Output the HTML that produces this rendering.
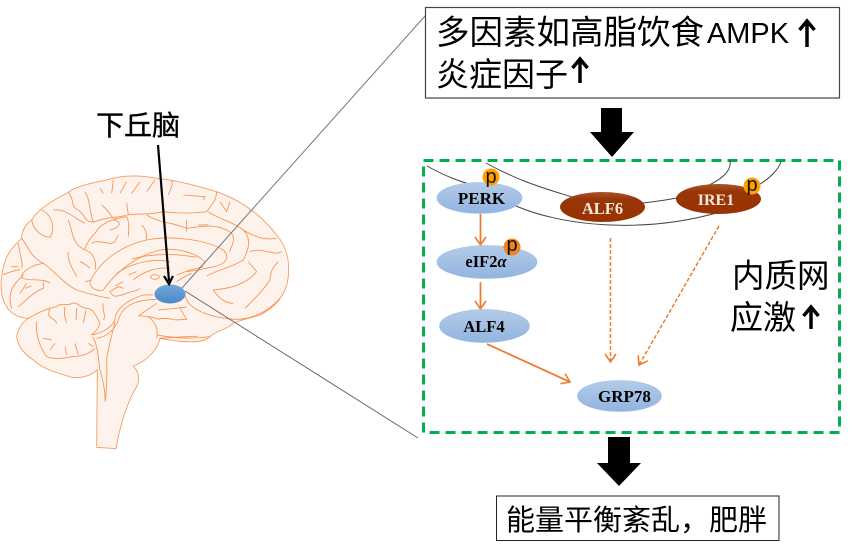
<!DOCTYPE html>
<html>
<head>
<meta charset="utf-8">
<style>
html,body{margin:0;padding:0;background:#fff}
body{width:853px;height:554px;overflow:hidden;position:relative}
svg{position:absolute;left:0;top:0}
.cjk{font-family:"Liberation Sans","Noto Sans CJK SC",sans-serif;fill:#000}
.lab{font-family:"Liberation Serif",serif;font-weight:bold;font-size:17px;text-anchor:middle;fill:#000}
.p{font-family:"Liberation Sans",sans-serif;font-size:20px;text-anchor:middle;fill:#111}
</style>
</head>
<body>
<svg width="853" height="554" viewBox="0 0 853 554" xmlns="http://www.w3.org/2000/svg">
<defs>
<linearGradient id="blue" x1="0" y1="0" x2="0" y2="1"><stop offset="0" stop-color="#b3cbe8"/><stop offset="1" stop-color="#92b4e0"/></linearGradient>
<linearGradient id="bl2" x1="0" y1="0" x2="0" y2="1"><stop offset="0" stop-color="#74a6d8"/><stop offset="1" stop-color="#4a8ac8"/></linearGradient>
<linearGradient id="red" x1="0" y1="0" x2="0" y2="1"><stop offset="0" stop-color="#a9542a"/><stop offset=".25" stop-color="#983608"/><stop offset="1" stop-color="#993300"/></linearGradient>
<marker id="ah" markerWidth="14" markerHeight="14" refX="10" refY="7" orient="auto" markerUnits="userSpaceOnUse"><path d="M2,1.500 L10,7 L2,12.500" fill="none" stroke="#ed7d31" stroke-width="1.600"/></marker>
</defs>

<!-- brain -->
<g transform="translate(0,160) scale(.3333)">
<path d="M290,862 L292,630 C270,650 240,655 215,652 C180,640 130,630 100,600 C70,580 55,560 50,530 C55,500 70,485 85,475 C60,475 30,460 20,440 C5,420 0,380 5,350 C10,310 20,280 50,250 L65,235 C65,210 80,190 95,180 C110,150 160,120 205,97 C230,75 300,65 340,55 C380,45 420,45 470,55 C530,60 600,80 650,95 C720,120 780,160 830,225 C860,260 870,300 865,350 C860,400 830,440 780,465 C750,475 720,480 700,490 C680,510 650,510 630,530 C610,550 560,550 480,535 C475,560 450,600 400,618 C420,640 420,660 410,680 C380,730 360,800 348,866 Z" fill="#fef3ec" stroke="#f59a5c" stroke-width="2.6"/>
<g fill="none" stroke="#f7924e" stroke-width="2.6">
<path d="M270,365 C300,300 370,255 440,240 C520,225 620,240 670,270 C690,290 680,310 650,318 C620,325 600,330 560,335"/>
<path d="M270,365 C270,385 290,395 310,390 C340,345 400,290 480,270 C530,262 600,280 615,310"/>
<path d="M395,298 C450,280 530,280 590,292 M350,340 C400,305 470,295 510,305 M400,360 C430,335 470,320 510,325"/>
<path d="M205,97 C225,120 210,140 235,150 C260,170 255,190 285,185 C320,170 350,175 380,165 C420,160 450,165 490,155 C530,160 580,160 620,155 C640,130 650,115 650,95"/>
<path d="M95,180 C100,215 130,230 150,232 C170,200 150,160 125,150 M160,150 C200,145 230,180 255,190 M205,180 C220,220 215,250 255,270 C285,280 290,310 285,330 M65,235 C85,260 90,290 130,310 C160,330 190,370 230,390 C260,400 300,410 330,415"/>
<path d="M285,220 C265,240 255,260 255,270 M285,220 C300,190 340,175 380,170 C390,190 385,210 385,230 M275,250 C300,235 330,260 345,245 L355,225 M340,180 C360,180 370,200 330,210"/>
<path d="M440,165 C480,190 510,185 560,205 C600,200 640,190 680,210 C720,230 690,260 690,275 M560,180 L560,215 M595,195 L625,195 M625,155 C650,175 700,185 730,210 C760,240 740,280 730,300 C690,325 650,330 620,348"/>
<path d="M730,210 C770,235 800,240 830,235 M750,275 C790,260 820,290 845,275 M640,390 C700,385 740,370 770,335 L745,305 M640,390 C660,420 680,430 700,430 M735,445 C770,410 790,390 810,360 C810,335 820,320 835,305"/>
<path d="M555,405 C560,440 610,470 700,478 C750,480 800,460 840,415"/>
<path d="M205,275 C200,300 220,330 230,350 M240,305 C255,310 265,320 270,325 M255,365 L275,360"/>
<path d="M130,310 C100,315 80,325 65,345 C60,370 130,350 150,370 M70,345 C40,375 20,395 35,445 M130,365 L130,385 C100,395 70,430 55,440 M60,400 L80,370 M75,385 L95,378"/>
<path d="M55,250 C60,290 70,310 65,325 M35,320 L55,320 M10,345 C25,335 40,335 60,328"/>
<path d="M85,475 C110,460 140,445 170,440 C185,425 205,440 215,430 C235,425 240,445 260,445 C280,445 290,470 300,490 C295,510 280,520 275,525 M110,485 C105,530 125,570 140,590 C165,600 190,595 215,590 C245,590 270,580 285,565 M150,445 C135,480 165,470 170,490 M195,440 C190,460 195,475 200,490 M230,445 L228,480 M258,450 L250,490 M130,535 L155,540 M150,570 L165,550 M195,560 L200,585 M225,550 L235,585 M265,550 L280,560"/>
<path d="M275,525 C300,520 330,510 345,480 C345,450 380,420 430,405 L460,405 M290,535 C320,530 345,510 355,480 C365,440 400,420 470,418"/>
<path d="M278,530 C295,560 295,600 300,630 C310,660 315,700 316,725 C320,680 322,640 320,600 C325,560 340,510 345,485"/>
<path d="M416,467 L470,430 M416,467 C440,470 460,470 475,478 C495,470 520,480 530,480 L560,478 L540,445 M475,450 L530,445 C545,440 555,445 560,440"/>
<path d="M480,535 C530,530 590,530 595,528 M470,525 C500,530 560,540 630,530 M445,470 C470,490 475,510 470,535"/>
<ellipse cx="465" cy="351" rx="13" ry="7"/>
<path d="M330,395 L355,380 L370,385 M330,395 C340,415 350,410 380,400 C400,390 415,395 420,385 M310,430 C305,450 320,470 310,480"/>
<path d="M385,345 L410,335 M345,378 L370,365 M530,345 L570,330 L610,320 M530,365 C545,355 560,345 575,340"/>
<path d="M300,85 L310,100 M340,60 L335,100 M380,65 L360,100 M420,65 L395,100 M465,60 L440,95 M515,60 C520,80 510,90 505,105 M550,105 L615,110 L610,120 M255,95 C275,130 265,150 280,185 M660,125 L680,155 L690,125 M305,135 C325,150 330,165 340,175 M380,130 L385,165 M425,195 C440,210 440,225 440,240"/>
</g>
</g>

<!-- guide lines -->
<line x1="182" y1="288" x2="425" y2="16" stroke="#777" stroke-width="1"/>
<line x1="185" y1="291" x2="418" y2="438" stroke="#666" stroke-width="1"/>

<!-- hypothalamus -->
<ellipse cx="170" cy="294" rx="15.500" ry="9.500" fill="url(#bl2)"/>
<line x1="158" y1="145" x2="169" y2="281" stroke="#000" stroke-width="2.200"/>
<path d="M164,276 L169,284 L173,276" fill="none" stroke="#000" stroke-width="2.200"/>
<text class="cjk" x="96" y="135" font-size="28" stroke="#000" stroke-width=".35">下丘脑</text>

<!-- top box -->
<rect x="425.500" y="7.500" width="414" height="90.500" fill="#fff" stroke="#444" stroke-width="1.200"/>
<text class="cjk" x="436" y="44" font-size="33.500">多因素如高脂饮食</text>
<text class="cjk" x="707" y="43" font-size="28.500" textLength="82" lengthAdjust="spacingAndGlyphs">AMPK</text>
<text class="cjk" x="436" y="86" font-size="33">炎症因子</text>
<path d="M807,47 L807,21 M799.500,30 L807,21 L814.500,30" fill="none" stroke="#000" stroke-width="3.500"/>
<path d="M580,83 L580,59 M572.500,68 L580,59 L587.500,68" fill="none" stroke="#000" stroke-width="3.500"/>

<!-- block arrows -->
<polygon points="601,108 622,108 622,132 634,132 612,157 590,132 601,132" fill="#000"/>
<polygon points="608,437 630,437 630,463 641,463 619,486 597,463 608,463" fill="#000"/>

<!-- green dashed box -->
<rect x="423.500" y="160.500" width="416" height="272" fill="none" stroke="#00b050" stroke-width="3" stroke-dasharray="10 6"/>

<!-- membrane -->
<g fill="none" stroke="#444" stroke-width="1">
<path d="M427,166 C445,176 460,182 480,187"/>
<path d="M486,163 C520,182 550,190 572,197"/>
<path d="M516,206 C560,225 640,235 720,212"/>
<path d="M643,203 C660,201 675,199 690,195"/>
<path d="M707,186 C720,180 732,172 730,160"/>
<path d="M760,184 C770,178 778,170 781,162"/>
</g>

<!-- connectors -->
<g fill="none" stroke="#ed7d31" stroke-width="1.800">
<line x1="480.500" y1="214" x2="480.500" y2="245" marker-end="url(#ah)"/>
<line x1="480.500" y1="282" x2="480.500" y2="309" marker-end="url(#ah)"/>
<line x1="487" y1="344" x2="570" y2="382" marker-end="url(#ah)"/>
<line x1="610.500" y1="238" x2="610.500" y2="362" stroke-width="1.500" stroke-dasharray="4 2" marker-end="url(#ah)"/>
<line x1="719" y1="226" x2="639" y2="365" stroke-width="1.500" stroke-dasharray="4 2" marker-end="url(#ah)"/>
</g>

<!-- nodes -->
<ellipse cx="479.500" cy="198" rx="42.500" ry="15.500" fill="url(#blue)" stroke="#9dbde3" stroke-width=".6"/>
<text class="lab" x="481.500" y="204">PERK</text>
<ellipse cx="487" cy="262" rx="50" ry="16.500" fill="url(#blue)" stroke="#9dbde3" stroke-width=".6"/>
<text class="lab" x="486" y="267" style="font-size:16.500px">eIF2<tspan font-style="italic">α</tspan></text>
<ellipse cx="484.500" cy="326" rx="45" ry="16.500" fill="url(#blue)" stroke="#9dbde3" stroke-width=".6"/>
<text class="lab" x="484" y="332" style="font-size:16.500px">ALF4</text>
<ellipse cx="619.500" cy="396" rx="42" ry="15.500" fill="url(#blue)" stroke="#9dbde3" stroke-width=".6"/>
<text class="lab" x="624.500" y="402">GRP78</text>
<ellipse cx="602.500" cy="207" rx="42.500" ry="15" fill="url(#red)"/>
<text class="lab" x="602.500" y="214" style="fill:#f6e8de;font-size:16.500px">ALF6</text>
<ellipse cx="718.500" cy="199" rx="42.500" ry="15" fill="url(#red)"/>
<text class="lab" x="716" y="205" style="fill:#f6e8de;font-size:16px">IRE1</text>

<!-- phospho badges -->
<circle cx="491" cy="177" r="8.500" fill="#ffa000"/>
<text class="p" x="491" y="183">p</text>
<circle cx="512" cy="247" r="8.500" fill="#f58220"/>
<text class="p" x="512" y="251">p</text>
<circle cx="752" cy="186" r="8.500" fill="#ffa000"/>
<text class="p" x="752" y="191">p</text>

<!-- side labels -->
<text class="cjk" x="732" y="287" font-size="32.500">内质网</text>
<text class="cjk" x="730" y="329" font-size="33">应激</text>
<path d="M811,329 L811,307 M803.500,316 L811,307 L818.500,316" fill="none" stroke="#000" stroke-width="3.500"/>

<!-- bottom box -->
<rect x="496.500" y="496" width="282.500" height="44.500" fill="#fff" stroke="#222" stroke-width="1"/>
<text class="cjk" x="506" y="530" font-size="29">能量平衡紊乱，肥胖</text>
</svg>
</body>
</html>
